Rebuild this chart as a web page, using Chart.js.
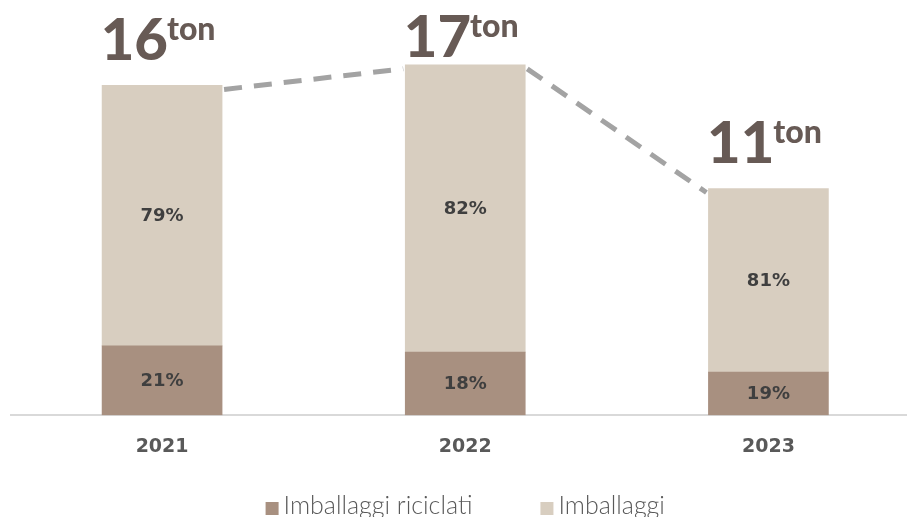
<!DOCTYPE html>
<html>
<head>
<meta charset="utf-8">
<script src="https://cdn.jsdelivr.net/npm/chart.js@4/dist/chart.umd.min.js"></script>
<style>
  html, body { margin: 0; padding: 0; background: #ffffff; overflow: hidden; }
  #wrap { width: 920px; height: 517px; }
</style>
</head>
<body>
<div id="wrap"><canvas id="chart" width="920" height="517"></canvas></div>
<script>
// Packaging waste per year: totals in tons and share of each part
const years = ['2021', '2022', '2023'];
const totalTons = [16, 17, 11];
const recycledPct = [21, 18, 19];
const otherPct = [79, 82, 81];
const seriesNames = ['Imballaggi riciclati', 'Imballaggi'];
const unitLabel = 'ton';

const colors = { recycled: '#a89080', other: '#d8cec0' };

const recycledTons = totalTons.map((t, i) => t * recycledPct[i] / 100);
const otherTons = totalTons.map((t, i) => t * otherPct[i] / 100);
const pctBySeries = [recycledPct, otherPct];

const overlay = {
  id: 'overlay',
  afterDatasetsDraw(chart) {
    const ctx = chart.ctx;
    const area = chart.chartArea;
    const lower = chart.getDatasetMeta(0).data;
    const upper = chart.getDatasetMeta(1).data;

    // dashed trend line joining the tops of neighbouring bars
    ctx.save();
    ctx.strokeStyle = '#a3a3a3';
    ctx.lineWidth = 5;
    ctx.setLineDash([18, 12]);
    ctx.lineCap = 'butt';
    for (let i = 0; i < upper.length - 1; i++) {
      const a = upper[i].getProps(['x', 'y', 'width'], true);
      const b = upper[i + 1].getProps(['x', 'y', 'width'], true);
      ctx.beginPath();
      ctx.moveTo(a.x + a.width / 2 + 2, a.y + 4);
      ctx.lineTo(b.x - b.width / 2 - 2, b.y + 4);
      ctx.stroke();
    }
    ctx.restore();

    // percentage inside every segment
    ctx.save();
    ctx.fillStyle = '#3f3f3f';
    ctx.font = 'bold 18px "DejaVu Sans"';
    ctx.textAlign = 'center';
    ctx.textBaseline = 'middle';
    [lower, upper].forEach((els, d) => {
      els.forEach((el, i) => {
        const p = el.getProps(['x', 'y', 'base'], true);
        ctx.fillText(pctBySeries[d][i] + '%', p.x, (p.y + p.base) / 2 + 1);
      });
    });
    ctx.restore();

    // totals above the bars
    ctx.save();
    ctx.fillStyle = '#675a55';
    ctx.textBaseline = 'alphabetic';
    ctx.textAlign = 'left';
    upper.forEach((el, i) => {
      const p = el.getProps(['x', 'y'], true);
      const num = String(totalTons[i]);
      ctx.font = '900 58px Lato';
      const w1 = ctx.measureText(num).width;
      ctx.font = '900 32px Lato';
      const w2 = ctx.measureText(unitLabel).width;
      const gap = -1;
      const x0 = p.x - (w1 + gap + w2) / 2 - 4;
      const base = Math.max(p.y - 25, area.top + 54);
      ctx.font = '900 58px Lato';
      ctx.fillText(num, x0, base);
      ctx.font = '900 32px Lato';
      ctx.fillText(unitLabel, x0 + w1 + gap, base - 20);
    });
    ctx.restore();

    // legend row
    ctx.save();
    ctx.font = '300 25px Lato';
    ctx.textBaseline = 'alphabetic';
    ctx.textAlign = 'left';
    const box = 13, boxGap = 5, itemGap = 68;
    const items = chart.data.datasets.map(ds => ({
      text: ds.label, color: ds.backgroundColor, w: ctx.measureText(ds.label).width
    }));
    const total = items.reduce((s, it) => s + box + boxGap + it.w, 0) + itemGap * (items.length - 1);
    let x = (area.left + area.right) / 2 - total / 2;
    const textBase = 514;
    items.forEach(it => {
      ctx.fillStyle = it.color;
      ctx.fillRect(x, textBase - 12, box, box);
      x += box + boxGap;
      ctx.fillStyle = '#595959';
      ctx.fillText(it.text, x, textBase);
      x += it.w + itemGap;
    });
    ctx.restore();
  }
};

new Chart(document.getElementById('chart'), {
  type: 'bar',
  data: {
    labels: years,
    datasets: [
      { label: seriesNames[0], data: recycledTons, backgroundColor: colors.recycled, barThickness: 120, stack: 'waste' },
      { label: seriesNames[1], data: otherTons, backgroundColor: colors.other, barThickness: 120, stack: 'waste' }
    ]
  },
  options: {
    responsive: false,
    devicePixelRatio: 1,
    animation: false,
    layout: { padding: { top: 3, left: 10.5, right: 0, bottom: 39 } },
    plugins: { legend: { display: false }, tooltip: { enabled: false } },
    scales: {
      x: {
        stacked: true,
        grid: { display: false, drawTicks: false },
        border: { display: true, color: '#d9d9d9', width: 2 },
        ticks: { color: '#595959', font: { family: 'DejaVu Sans', size: 19, weight: 'bold' }, padding: 20 }
      },
      y: { stacked: true, display: false, min: 0, max: 20 }
    }
  },
  plugins: [overlay]
});
</script>
</body>
</html>
